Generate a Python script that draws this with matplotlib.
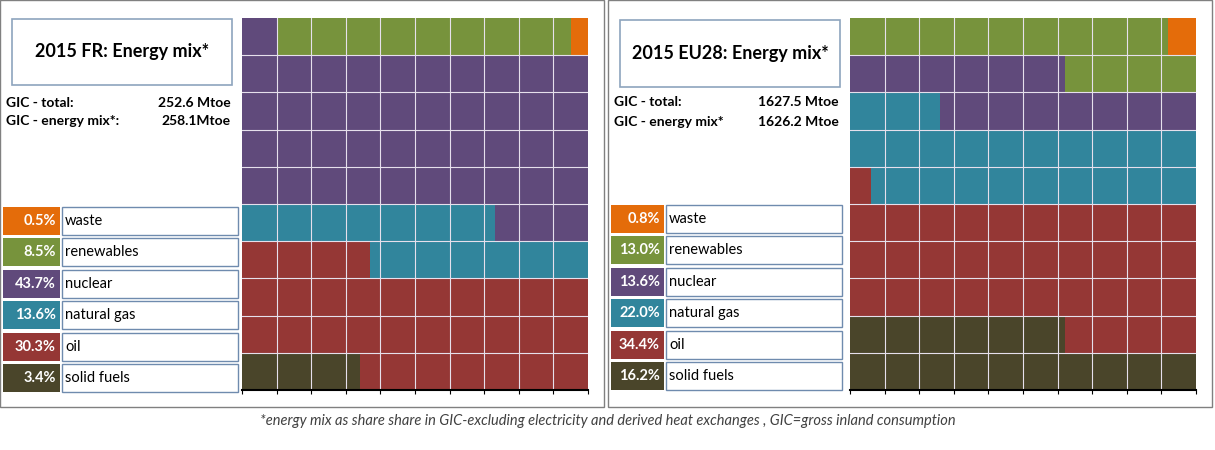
import matplotlib.pyplot as plt
from matplotlib.patches import Rectangle

plt.rcParams['font.family'] = ['Lato', 'DejaVu Sans']

categories = ['waste', 'renewables', 'nuclear', 'natural gas', 'oil', 'solid fuels']
colors = ['#E46C0A', '#77933C', '#604A7B', '#31859C', '#953735', '#4A452A']
fr_shares = [0.5, 8.5, 43.7, 13.6, 30.3, 3.4]
eu_shares = [0.8, 13.0, 13.6, 22.0, 34.4, 16.2]
fr_title = '2015 FR: Energy mix*'
eu_title = '2015 EU28: Energy mix*'
fr_gic = ['252.6 Mtoe', '258.1Mtoe']
eu_gic = ['1627.5 Mtoe', '1626.2 Mtoe']
gic_labels_fr = ['GIC - total:', 'GIC - energy mix*:']
gic_labels_eu = ['GIC - total:', 'GIC - energy mix*']
footnote = '*energy mix as share share in GIC-excluding electricity and derived heat exchanges , GIC=gross inland consumption'

W, H = 1215, 450
fig = plt.figure(figsize=(W / 100, H / 100), dpi=100)
base = fig.add_axes([0, 0, 1, 1])
base.set_xlim(0, W)
base.set_ylim(H, 0)
base.axis('off')


def waffle(x0, y0, x1, y1, shares):
    ax = fig.add_axes([x0 / W, 1 - y1 / H, (x1 - x0) / W, (y1 - y0) / H])
    ax.set_xlim(0, 10)
    ax.set_ylim(0, 10)
    # fill cells from bottom-left, row by row, starting with the last category
    start = 0.0
    for share, col in zip(shares[::-1], colors[::-1]):
        end = start + share
        pos = start
        while pos < end - 1e-9:
            row = int(pos // 10)
            row_end = min(end, (row + 1) * 10)
            ax.barh(row + 0.5, row_end - pos, left=pos - row * 10, height=1,
                    color=col, linewidth=0)
            pos = row_end
        start = end
    for i in range(1, 10):
        ax.axvline(i, color='#E6E0EC', lw=0.8)
        ax.axhline(i, color='#E6E0EC', lw=0.8)
    ax.set_xticks(range(11))
    ax.set_yticks([])
    ax.tick_params(axis='x', length=3, labelbottom=False, color='black')
    for s in ['top', 'left', 'right']:
        ax.spines[s].set_visible(False)
    ax.spines['bottom'].set_linewidth(1.5)


def panel(px, grid, title, tbox, gic_labels, gic_vals, gic_y, leg, shares):
    base.add_patch(Rectangle((px, 0), 604, 407, fill=False, ec='#808080', lw=1))
    tx0, ty0, tx1, ty1 = tbox
    base.add_patch(Rectangle((tx0, ty0), tx1 - tx0, ty1 - ty0, fill=False,
                             ec='#8EA4BE', lw=1.2))
    base.text((tx0 + tx1) / 2, (ty0 + ty1) / 2, title, ha='center', va='center',
              fontsize=13, fontweight='bold')
    for lab, val, y in zip(gic_labels, gic_vals, gic_y):
        base.text(tx0 - 6, y, lab, ha='left', va='center', fontsize=10, fontweight='bold')
        base.text(tx1 - 1, y, val, ha='right', va='center', fontsize=10, fontweight='bold')
    cx0, cx1, lx1, ly0, step, bh = leg
    for i, (cat, share, col) in enumerate(zip(categories, shares, colors)):
        y = ly0 + i * step
        base.add_patch(Rectangle((cx0, y), cx1 - cx0, bh, color=col, lw=0))
        base.text(cx1 - 4, y + bh / 2, f'{share:.1f}%', ha='right', va='center',
                  color='white', fontsize=10.5, fontweight='bold')
        base.add_patch(Rectangle((cx1 + 2, y), lx1 - cx1 - 2, bh, fill=False,
                                 ec='#6F8BAE', lw=1))
        base.text(cx1 + 5, y + bh / 2, cat, ha='left', va='center', fontsize=10.5)
    waffle(*grid, shares)


panel(0, (242, 18, 588, 390), fr_title, (12, 19, 232, 85), gic_labels_fr, fr_gic,
      (103, 121), (3, 60, 238, 207, 31.4, 28), fr_shares)
panel(608, (850, 18, 1196, 390), eu_title, (620, 20, 840, 87), gic_labels_eu, eu_gic,
      (102, 122), (611, 664, 842, 205, 31.4, 28), eu_shares)

base.text(608, 421, footnote, ha='center', va='center', fontsize=10.5,
          style='italic', color='#404040')

fig.savefig('out.png', dpi=100)
